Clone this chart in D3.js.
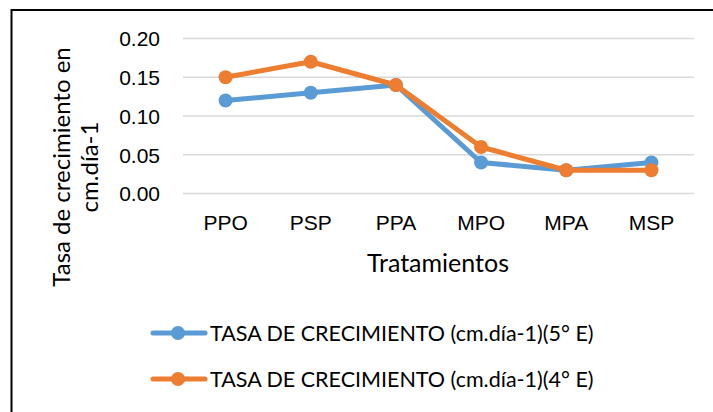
<!DOCTYPE html>
<meta charset="utf-8">
<style>
body { margin: 0; background: #fff; }
svg { display: block; font-family: Lato, "Open Sans", sans-serif; }
.tick text { font-size: 21px; fill: #000; }
</style>
<svg width="713" height="412"></svg>
<script src="https://cdn.jsdelivr.net/npm/d3@7"></script>
<script>

var categories = ["PPO", "PSP", "PPA", "MPO", "MPA", "MSP"];
var serie5 = [0.12, 0.13, 0.14, 0.04, 0.03, 0.04];
var serie4 = [0.15, 0.17, 0.14, 0.06, 0.03, 0.03];
var yTicks = [0, 0.05, 0.10, 0.15, 0.20];
var seriesNames = ["TASA DE CRECIMIENTO (cm.día-1)(5° E)", "TASA DE CRECIMIENTO (cm.día-1)(4° E)"];
var colors = ["#5B9BD5", "#ED7D31"];

var svg = d3.select("svg");

// frame (only top and left edges fall inside the picture)
svg.append("rect")
    .attr("x", 11.5).attr("y", 10)
    .attr("width", 900).attr("height", 600)
    .attr("fill", "none").attr("stroke", "#000").attr("stroke-width", 2);

var plotLeft = 183, plotRight = 694, plotTop = 38.5, plotBottom = 193.5;

var x = d3.scaleBand().domain(categories).range([plotLeft, plotRight]);
var y = d3.scaleLinear().domain([0, 0.20]).range([plotBottom, plotTop]);

// gridlines
svg.append("g").selectAll("line")
    .data(yTicks)
  .enter().append("line")
    .attr("x1", plotLeft).attr("x2", plotRight)
    .attr("y1", function(d) { return y(d); })
    .attr("y2", function(d) { return y(d); })
    .attr("stroke", "#d9d9d9").attr("stroke-width", 1.5);

// y axis labels
var yAxis = svg.append("g")
    .attr("transform", "translate(" + plotLeft + ",0)")
    .call(d3.axisLeft(y).tickValues(yTicks).tickFormat(d3.format(".2f")).tickSize(0).tickPadding(23));
yAxis.select(".domain").remove();
yAxis.selectAll("text").attr("dy", "0.35em");

// x axis labels
var xAxis = svg.append("g")
    .attr("transform", "translate(0," + plotBottom + ")")
    .call(d3.axisBottom(x).tickSize(0).tickPadding(22));
xAxis.select(".domain").remove();
xAxis.selectAll("text").attr("dy", "0.71em");

// axis titles
svg.append("text")
    .attr("x", 438).attr("y", 272)
    .attr("text-anchor", "middle")
    .style("font-size", "25px")
    .text("Tratamientos");

var yTitle = svg.append("text")
    .attr("transform", "translate(70,167) rotate(-90)")
    .attr("text-anchor", "middle")
    .style("font-size", "24px");
yTitle.append("tspan").attr("x", 0).attr("y", 0).text("Tasa de crecimiento en");
yTitle.append("tspan").attr("x", 0).attr("y", 28).text("cm.día-1");

// series
var line = d3.line()
    .x(function(d, i) { return x(categories[i]) + x.bandwidth() / 2; })
    .y(function(d) { return y(d); });

[serie5, serie4].forEach(function(s, k) {
  var g = svg.append("g");
  g.append("path")
      .datum(s)
      .attr("d", line)
      .attr("fill", "none")
      .attr("stroke", colors[k])
      .attr("stroke-width", 5)
      .attr("stroke-linejoin", "round");
  g.selectAll("circle")
      .data(s)
    .enter().append("circle")
      .attr("cx", function(d, i) { return x(categories[i]) + x.bandwidth() / 2; })
      .attr("cy", function(d) { return y(d); })
      .attr("r", 7)
      .attr("fill", colors[k]);
});

// legend
var legend = svg.append("g").selectAll("g")
    .data(seriesNames)
  .enter().append("g")
    .attr("transform", function(d, i) { return "translate(0," + (333 + i * 46) + ")"; });

legend.append("line")
    .attr("x1", 153).attr("x2", 205)
    .attr("stroke", function(d, i) { return colors[i]; })
    .attr("stroke-width", 5)
    .attr("stroke-linecap", "round");
legend.append("circle")
    .attr("cx", 178).attr("r", 7)
    .attr("fill", function(d, i) { return colors[i]; });
legend.append("text")
    .attr("x", 210).attr("dy", "0.35em")
    .style("font-size", "21.5px")
    .text(function(d) { return d; });

</script>
